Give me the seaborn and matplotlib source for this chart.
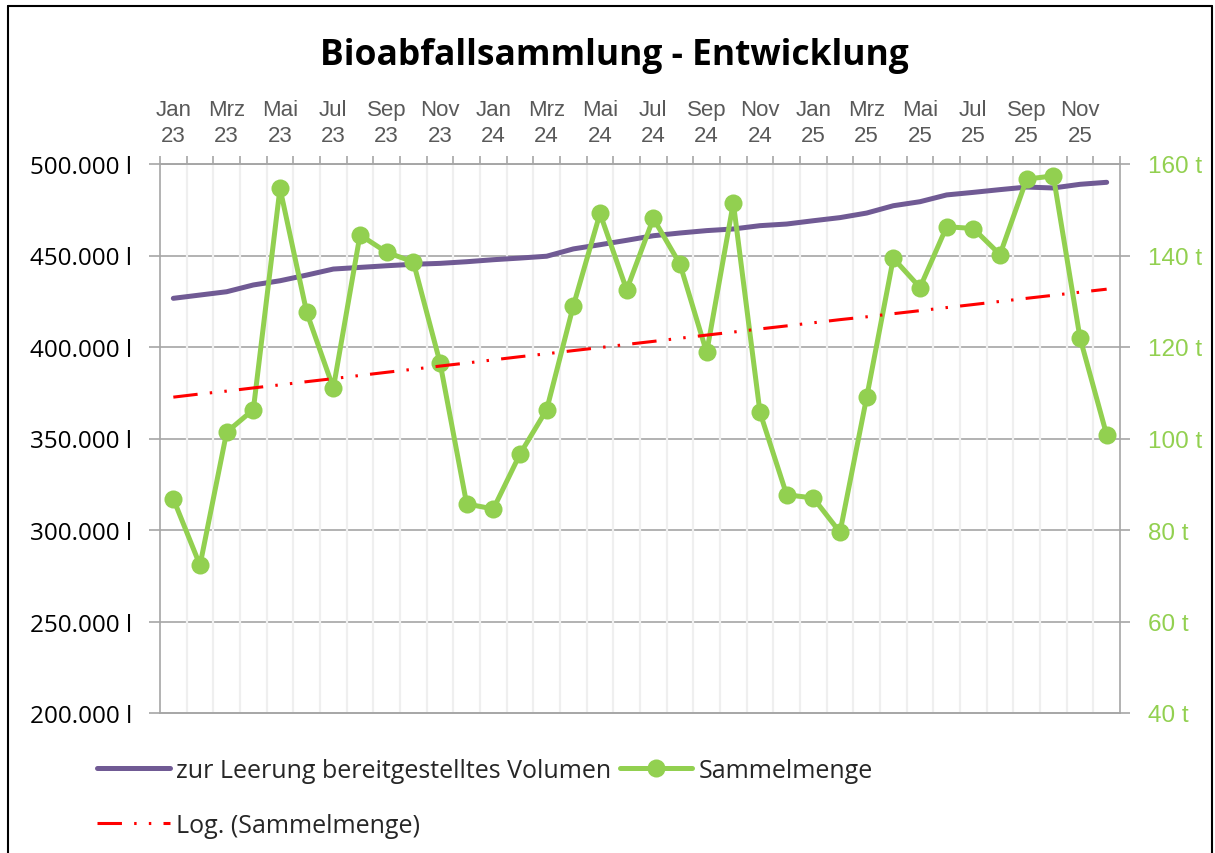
import numpy as np
import pandas as pd
import matplotlib
matplotlib.use("Agg")
import matplotlib.pyplot as plt
import seaborn as sns
from matplotlib.ticker import FuncFormatter, FixedLocator
from matplotlib.lines import Line2D

# ---------------- data ----------------
month_names = ["Jan", "Feb", "Mrz", "Apr", "Mai", "Jun", "Jul", "Aug", "Sep", "Okt", "Nov", "Dez"]
years = ["23", "24", "25"]
months = [f"{m} {y}" for y in years for m in month_names]
month_dates = pd.date_range("2023-01-01", periods=36, freq="MS")

volumen = [426600, 428400, 430200, 433900, 436200, 439300, 442600, 443500, 444400, 445200,
           445700, 446600, 447700, 448600, 449600, 453600, 455900, 458300, 460800, 462300,
           463600, 464500, 466300, 467200, 469000, 470700, 473200, 477200, 479400, 483100,
           484500, 486000, 487400, 486900, 488900, 490000]

sammelmenge = [86.8, 72.3, 101.4, 106.3, 154.7, 127.6, 111.0, 144.5, 140.7, 138.6,
               116.6, 85.7, 84.6, 96.6, 106.3, 129.0, 149.2, 132.5, 148.1, 138.1,
               118.8, 151.5, 105.7, 87.7, 87.0, 79.5, 109.0, 139.4, 133.0, 146.3,
               145.9, 140.2, 156.7, 157.4, 122.0, 100.8]

title = "Bioabfallsammlung - Entwicklung"
label_vol = "zur Leerung bereitgestelltes Volumen"
label_menge = "Sammelmenge"
label_trend = "Log. (Sammelmenge)"

# Excel-style logarithmic trend line (x = date serial numbers)
serial = np.array([(d - pd.Timestamp("1899-12-30")).days for d in month_dates], dtype=float)
a, b = np.polyfit(np.log(serial), np.array(sammelmenge), 1)
trend = a * np.log(serial) + b

df = pd.DataFrame({"idx": np.arange(len(months)), "month": months,
                   "volumen": volumen, "menge": sammelmenge, "trend": trend})

# ---------------- styling ----------------
sns.set_style("white")
PURPLE = "#705A94"
GREEN = "#92D050"
RED = "#FF0000"
GRID_H = "#A6A6A6"
GRID_V = "#EFEFEF"
TREND_DASH = (0, (8, 4, 0.8, 4, 0.8, 4))

W, H = 1215, 854
fig = plt.figure(figsize=(W / 100, H / 100), dpi=100)
fig.patch.set_facecolor("white")

L, R, T, B = 160, 1120, 165, 714
ax = fig.add_axes([L / W, 1 - B / H, (R - L) / W, (B - T) / H])
ax2 = ax.twinx()

# purple volume line (left axis)
sns.lineplot(data=df, x="idx", y="volumen", ax=ax, color=PURPLE, linewidth=3.6,
             solid_capstyle="round", zorder=3, legend=False)
# green collected amount (right axis)
sns.lineplot(data=df, x="idx", y="menge", ax=ax2, color=GREEN, linewidth=3.6,
             marker="o", markersize=13, markeredgewidth=0, zorder=3, legend=False)
# red trend line
sns.lineplot(data=df, x="idx", y="trend", ax=ax2, color=RED, linewidth=2.2,
             zorder=4, legend=False)
ax2.lines[-1].set_linestyle(TREND_DASH)

n = len(months)
ax.set_xlim(-0.5, n - 0.5)
ax.set_ylim(200000, 500000)
ax2.set_ylim(40, 160)

# horizontal gridlines
ax.yaxis.set_major_locator(FixedLocator(np.arange(200000, 500001, 50000)))
ax2.yaxis.set_major_locator(FixedLocator(np.arange(40, 161, 20)))
ax.grid(False)
ax2.grid(False)
for yv in np.arange(250000, 500001, 50000):
    ax.axhline(yv, color=GRID_H, lw=1.2, zorder=0.5)
# vertical light gridlines at category boundaries (drawn over horizontal ones)
for xb in np.arange(0.5, n - 0.5, 1.0):
    ax.axvline(xb, color=GRID_V, lw=1.6, zorder=0.8)

ax.yaxis.set_major_formatter(FuncFormatter(lambda v, p: f"{v:,.0f}".replace(",", ".") + " l"))
ax2.yaxis.set_major_formatter(FuncFormatter(lambda v, p: f"{v:.0f} t"))

# x axis on top
ax.xaxis.tick_top()
ax.xaxis.set_label_position("top")
tick_pos = list(range(0, n, 2))
ax.set_xticks(tick_pos)
ax.set_xticklabels([months[i].replace(" ", "\n") for i in tick_pos],
                   fontfamily="Liberation Sans", fontsize=16, color="#595959", linespacing=1.3)
ax.set_xticks(np.arange(-0.5, n, 1.0), minor=True)
ax.tick_params(axis="x", which="major", length=0, pad=13, top=True, bottom=False)
ax.tick_params(axis="x", which="minor", length=6, width=1.2, color=GRID_H, top=True, bottom=False)
ax2.tick_params(axis="x", which="both", length=0, top=False, bottom=False, labeltop=False, labelbottom=False)

ax.tick_params(axis="y", which="major", length=8, width=1.2, color=GRID_H, pad=12,
               left=True, right=False)
for lab in ax.get_yticklabels():
    lab.set_fontfamily("Open Sans")
    lab.set_fontsize(17.5)
    lab.set_color("black")
ax2.tick_params(axis="y", which="major", length=7, width=1.2, color=GRID_H, pad=13,
                right=True, left=False)
for lab in ax2.get_yticklabels():
    lab.set_fontfamily("Liberation Sans")
    lab.set_fontsize(17.5)
    lab.set_color(GREEN)

for a_ in (ax, ax2):
    for s in a_.spines.values():
        s.set_color(GRID_H)
        s.set_linewidth(1.2)
ax2.spines["left"].set_visible(False)
ax.spines["right"].set_visible(False)
ax.set_xlabel("")
ax.set_ylabel("")
ax2.set_xlabel("")
ax2.set_ylabel("")
ax2.set_zorder(ax.get_zorder() + 1)
ax2.patch.set_visible(False)

# title
fig.text(614 / W, 1 - 56 / H, title, ha="center", va="center", fontfamily="Open Sans",
         fontweight="bold", fontsize=25.5, color="black")

# legend: order so that row 1 = volume, Sammelmenge ; row 2 = trend
h_vol = Line2D([], [], color=PURPLE, lw=3.6, solid_capstyle="round")
h_menge = Line2D([], [], color=GREEN, lw=3.6, marker="o", markersize=13, markeredgewidth=0)
h_trend = Line2D([], [], color=RED, lw=2.2, linestyle=TREND_DASH)
leg = fig.legend([h_vol, h_trend, h_menge], [label_vol, label_trend, label_menge],
                 ncol=2, loc="upper left", bbox_to_anchor=(97 / W, 1 - 759 / H),
                 frameon=False, borderaxespad=0, borderpad=0, handlelength=2.9,
                 handletextpad=0.25, columnspacing=0.35, labelspacing=1.2,
                 prop={"family": "Open Sans", "size": 18})

# outer chart border
fig.add_artist(Line2D([8 / W, 8 / W], [0, 1 - 7 / H], transform=fig.transFigure, color="black", lw=1.5))
fig.add_artist(Line2D([8 / W, 1212 / W], [1 - 7 / H, 1 - 7 / H], transform=fig.transFigure, color="black", lw=1.5))
fig.add_artist(Line2D([1212 / W, 1212 / W], [0, 1 - 7 / H], transform=fig.transFigure, color="black", lw=1.5))

fig.savefig("out.png", dpi=100, facecolor="white")
